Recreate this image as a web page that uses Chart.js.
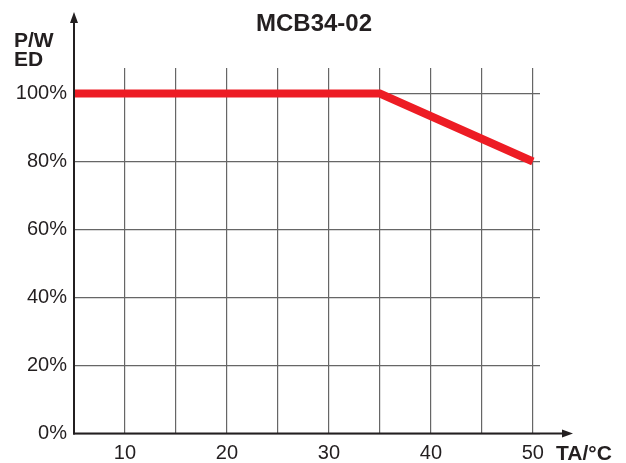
<!DOCTYPE html>
<html>
<head>
<meta charset="utf-8">
<script src="https://cdn.jsdelivr.net/npm/chart.js@4/dist/chart.umd.min.js"></script>
<style>
  html, body { margin: 0; padding: 0; background: #ffffff; }
  #wrap { width: 626px; height: 463px; position: relative; }
</style>
</head>
<body>
<div id="wrap"><canvas id="c" width="626" height="463"></canvas></div>
<script>
// ---- data ----
const chartTitle = 'MCB34-02';
const temperatures = [5, 35, 50];      // TA / °C
const powerPercent = [100, 100, 80];   // P/W ED in %
const xTickValues = [10, 20, 30, 40, 50];
const xGridValues = [5, 10, 15, 20, 25, 30, 35, 40, 45, 50];
const yTickValues = [0, 20, 40, 60, 80, 100];
const yAxisLabel = ['P/W', 'ED'];
const xAxisLabel = 'TA/°C';

const ink = '#231f20';
const gridColor = '#666666';
const FONT = '"Liberation Sans", Arial, Helvetica, sans-serif';

const decorPlugin = {
  id: 'decor',
  afterDatasetsDraw(chart) {
    const { ctx, chartArea, scales } = chart;
    const x0 = scales.x.getPixelForValue(5);
    const y0 = scales.y.getPixelForValue(0);
    const xEnd = chartArea.right + 33;
    const yEnd = chartArea.top - 56;
    ctx.save();
    ctx.strokeStyle = ink;
    ctx.fillStyle = ink;
    ctx.lineWidth = 2;
    // y axis
    ctx.beginPath();
    ctx.moveTo(x0, y0 + 1);
    ctx.lineTo(x0, yEnd + 8);
    ctx.stroke();
    ctx.beginPath();
    ctx.moveTo(x0, yEnd);
    ctx.lineTo(x0 - 4, yEnd + 11);
    ctx.lineTo(x0 + 4, yEnd + 11);
    ctx.closePath();
    ctx.fill();
    // x axis
    ctx.beginPath();
    ctx.moveTo(x0 - 1, y0);
    ctx.lineTo(xEnd - 8, y0);
    ctx.stroke();
    ctx.beginPath();
    ctx.moveTo(xEnd, y0);
    ctx.lineTo(xEnd - 11, y0 - 4);
    ctx.lineTo(xEnd - 11, y0 + 4);
    ctx.closePath();
    ctx.fill();

    // title
    ctx.textAlign = 'center';
    ctx.textBaseline = 'alphabetic';
    ctx.font = 'bold 24px ' + FONT;
    ctx.fillText(chartTitle, 314, 31);

    // y axis label
    ctx.textAlign = 'left';
    ctx.font = 'bold 21px ' + FONT;
    ctx.fillText(yAxisLabel[0], 14, 47);
    ctx.fillText(yAxisLabel[1], 14, 66);

    // x axis label
    ctx.fillText(xAxisLabel, 556, 460);
    ctx.restore();
  }
};

new Chart(document.getElementById('c'), {
  type: 'line',
  data: {
    datasets: [{
      data: temperatures.map((t, i) => ({ x: t, y: powerPercent[i] })),
      borderColor: '#ed1c24',
      borderWidth: 8,
      pointRadius: 0,
      borderCapStyle: 'butt',
      borderJoinStyle: 'miter',
      tension: 0,
      clip: false
    }]
  },
  options: {
    responsive: false,
    animation: false,
    devicePixelRatio: 1,
    layout: { padding: { top: 68, right: 86, left: 0, bottom: 0 } },
    plugins: { legend: { display: false }, title: { display: false }, tooltip: { enabled: false } },
    scales: {
      x: {
        type: 'linear',
        min: 5,
        max: 50.7,
        afterBuildTicks: (s) => { s.ticks = xGridValues.map(v => ({ value: v })); },
        afterFit: (s) => { s.height = 29.5; },
        border: { display: false },
        grid: { color: gridColor, lineWidth: 1.2, drawTicks: false },
        ticks: {
          padding: 8,
          color: ink,
          font: { family: FONT, size: 20 },
          maxRotation: 0,
          autoSkip: false,
          callback: (v) => xTickValues.includes(v) ? String(v) : ''
        }
      },
      y: {
        type: 'linear',
        min: 0,
        max: 107.5,
        afterBuildTicks: (s) => { s.ticks = yTickValues.map(v => ({ value: v })); },
        afterFit: (s) => { s.width = 74; },
        border: { display: false },
        grid: { color: gridColor, lineWidth: 1.2, drawTicks: false },
        ticks: {
          padding: 7,
          color: ink,
          font: { family: FONT, size: 20 },
          callback: (v) => v + '%'
        }
      }
    }
  },
  plugins: [decorPlugin]
});
</script>
</body>
</html>
